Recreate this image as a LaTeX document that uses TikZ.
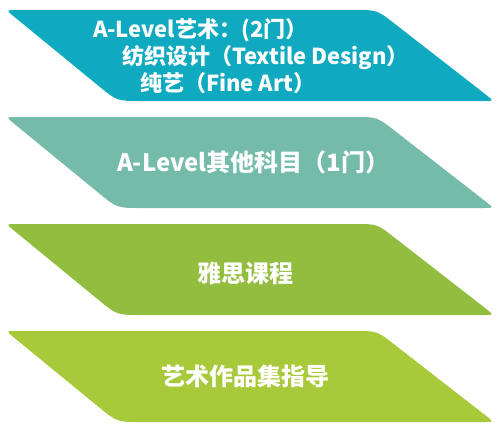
\documentclass[tikz,border=0pt]{standalone}
\usepackage{fontspec}
\setmainfont{Noto Sans CJK SC}[BoldFont={Noto Sans CJK SC Black}]
\usetikzlibrary{calc}
\definecolor{cA}{HTML}{10AAC0}
\definecolor{cB}{HTML}{74BCA9}
\definecolor{cC}{HTML}{93BD3F}
\definecolor{cD}{HTML}{A8C93A}
\newcommand\parashape[3]{%
  \coordinate (#3TL) at (6,#1);
  \coordinate (#3TR) at (377,#1);
  \coordinate (#3BR) at (494,#1+91);
  \coordinate (#3BL) at (117,#1+91);
  \fill[#2] ($(#3TL)!10pt!(#3TR)$) -- ($(#3TR)!22pt!(#3TL)$)
    .. controls (#3TR) .. ($(#3TR)!22pt!(#3BR)$)
    -- ($(#3BR)!11pt!(#3TR)$)
    .. controls (#3BR) .. ($(#3BR)!11pt!(#3BL)$)
    -- ($(#3BL)!24pt!(#3BR)$)
    .. controls (#3BL) .. ($(#3BL)!24pt!(#3TL)$)
    -- ($(#3TL)!10pt!(#3BL)$)
    .. controls (#3TL) .. cycle;
}
\tikzset{lbl/.style={text=white, font=\bfseries, inner sep=0pt, outer sep=0pt}}
\begin{document}
\begin{tikzpicture}[x=1pt,y=-1pt]
\useasboundingbox (0,0) rectangle (500,439);
\parashape{10}{cA}{s1}
\parashape{117}{cB}{s2}
\parashape{224}{cC}{s3}
\parashape{331}{cD}{s4}
\node[lbl, anchor=base west, font=\fontsize{22}{24}\selectfont\bfseries] (t1a) at (93,37) {A-Level艺术：(2门）};
\node[lbl, anchor=base west, font=\fontsize{22}{24}\selectfont\bfseries] (t1b) at (122,64) {纺织设计（Textile Design）};
\node[lbl, anchor=base west, font=\fontsize{22}{24}\selectfont\bfseries] (t1c) at (140,91) {纯艺（Fine Art）};
\node[lbl, anchor=base west, font=\fontsize{24}{26}\selectfont\bfseries] (t2) at (117,171) {A-Level其他科目（1门）};
\node[lbl, anchor=base, font=\fontsize{24}{28}\selectfont\bfseries] (t3) at (245,282) {雅思课程};
\node[lbl, anchor=base, font=\fontsize{24}{28}\selectfont\bfseries] (t4) at (245,385) {艺术作品集指导};
\end{tikzpicture}
\end{document}
